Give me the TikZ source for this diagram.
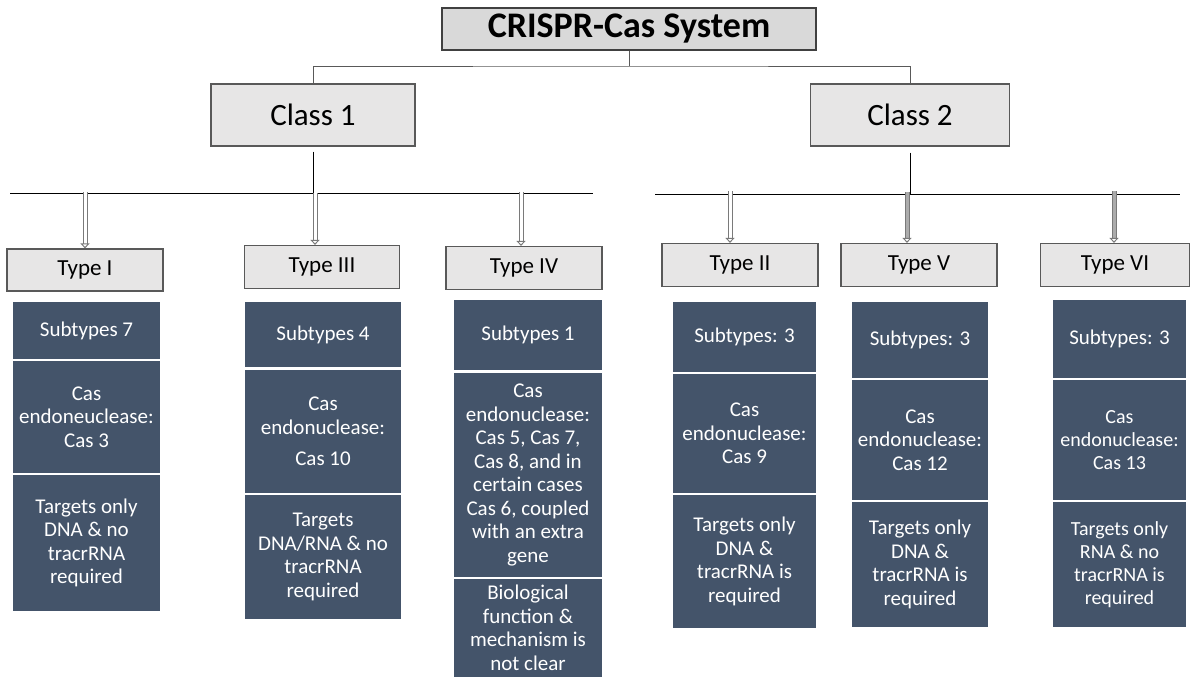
\documentclass[tikz,border=0pt]{standalone}
\usepackage{fontspec}
\setmainfont{Carlito}
\usetikzlibrary{arrows.meta,positioning}
\definecolor{slate}{HTML}{44546A}
\definecolor{boxfill}{HTML}{E7E6E6}
\definecolor{boxline}{HTML}{595959}

\begin{document}
\begin{tikzpicture}[x=1pt,y=-1pt,>=Stealth,
  lbox/.style={draw=boxline,fill=boxfill,line width=1.2pt,inner sep=0pt},
  tybox/.style={lbox,minimum width=156pt,minimum height=43pt,font=\fontsize{23}{27}\selectfont},
  cell/.style={fill=slate,text=white,inner sep=0pt,align=center,font=\fontsize{21}{23.5}\selectfont},
  dblarrow/.style={draw=boxline!80,line width=1pt,double=white,double distance=3pt,-{Triangle[open,length=5pt,width=9pt]}}]
\useasboundingbox (0,0) rectangle (1191,677);
% top of the tree
\node[lbox,draw=black!75,fill=black!15,minimum width=374pt,minimum height=42pt,font=\fontsize{36}{40}\selectfont\bfseries] (title) at (629,29) {CRISPR-Cas System};
\node[lbox,minimum width=204pt,minimum height=62pt,font=\fontsize{31}{35}\selectfont] (class1) at (313,115) {Class 1};
\node[lbox,minimum width=199pt,minimum height=62pt,font=\fontsize{31}{35}\selectfont] (class2) at (910,115) {Class 2};
\coordinate (fork) at (629,66);
\draw[boxline] (title.south) -- (fork);
\draw[boxline] (class1.north) |- (fork) -| (class2.north);
% the two bars
\coordinate (barLw) at (10,193);
\coordinate (barLe) at (593,193);
\coordinate (barRw) at (655,194);
\coordinate (barRe) at (1180,194);
\draw (barLw) -- (barLe);
\draw (barRw) -- (barRe);
\draw ([yshift=-5pt]class1.south) -- (class1.south |- barLw);
\draw ([yshift=-6pt]class2.south) -- (class2.south |- barRw);
% types
\node[tybox,minimum height=42pt] (tyI) at (85,270) {Type I};
\node[tybox,minimum width=155pt] (tyIII) at (322,267) {Type III};
\node[tybox] (tyIV) at (524,268) {Type IV};
\node[tybox] (tyII) at (740,265) {Type II};
\node[tybox] (tyV) at (919,265) {Type V};
\node[tybox,minimum width=149pt] (tyVI) at (1115,265) {Type VI};
\coordinate (aI) at (85,192);
\coordinate (aIII) at (315,193);
\coordinate (aIV) at (521,192);
\coordinate (aII) at (730,191);
\coordinate (aV) at (907,192);
\coordinate (aVI) at (1114,191);
\draw[dblarrow] (aI) -- (aI |- tyI.north);
\draw[dblarrow] (aIII) -- (aIII |- tyIII.north);
\draw[dblarrow] (aIV) -- (aIV |- tyIV.north);
\draw[dblarrow] (aII) -- (aII |- tyII.north);
\draw[dblarrow,double=boxline!50] (aV) -- (aV |- tyV.north);
\draw[dblarrow,double=boxline!50] (aVI) -- (aVI |- tyVI.north);
% Type I
\node[cell,minimum width=147pt,minimum height=57pt] (c1a) at (86.5,330.5) {Subtypes 7};
\node[cell,minimum width=147pt,minimum height=112pt] (c1b) at (86.5,417) {Cas\\endoneuclease:\\Cas 3};
\node[cell,minimum width=147pt,minimum height=136pt] (c1c) at (86.5,543) {Targets only\\DNA \& no\\tracrRNA\\required};
% Type III
\node[cell,minimum width=156pt,minimum height=65pt] (c2a) at (323,334.5) {Subtypes 4};
\node[cell,minimum width=156pt,minimum height=123pt] (c2b) at (323,431.5) {Cas\\endonuclease:\\[8pt]Cas 10};
\node[cell,minimum width=156pt,minimum height=124pt] (c2c) at (323,557) {Targets\\DNA/RNA \& no\\tracrRNA\\required};
% Type IV
\node[cell,minimum width=148pt,minimum height=70pt] (c3a) at (528,335) {Subtypes 1};
\node[cell,minimum width=148pt,minimum height=204pt] (c3b) at (528,475) {Cas\\endonuclease:\\Cas 5, Cas 7,\\Cas 8, and in\\certain cases\\Cas 6, coupled\\with an extra\\gene};
\node[cell,minimum width=148pt,minimum height=98pt] (c3c) at (528,628) {Biological\\function \&\\mechanism is\\not clear};
% Type II
\node[cell,minimum width=143pt,minimum height=70pt] (c4a) at (744.5,337) {Subtypes: 3};
\node[cell,minimum width=143pt,minimum height=119pt] (c4b) at (744.5,433.5) {Cas\\endonuclease:\\Cas 9};
\node[cell,minimum width=143pt,minimum height=133pt] (c4c) at (744.5,561.5) {Targets only\\DNA \&\\tracrRNA is\\required};
% Type V
\node[cell,minimum width=136pt,minimum height=76pt] (c5a) at (920,340) {Subtypes: 3};
\node[cell,minimum width=136pt,minimum height=120pt] (c5b) at (920,440) {Cas\\endonuclease:\\Cas 12};
\node[cell,minimum width=136pt,minimum height=125pt] (c5c) at (920,564.5) {Targets only\\DNA \&\\tracrRNA is\\required};
% Type VI
\node[cell,minimum width=133pt,minimum height=78pt] (c6a) at (1119.5,339) {Subtypes: 3};
\node[cell,minimum width=133pt,minimum height=120pt,font=\fontsize{20}{23}\selectfont] (c6b) at (1119.5,440) {Cas\\endonuclease:\\Cas 13};
\node[cell,minimum width=133pt,minimum height=125pt,font=\fontsize{20}{23}\selectfont] (c6c) at (1119.5,564.5) {Targets only\\RNA \& no\\tracrRNA is\\required};
\end{tikzpicture}
\end{document}
